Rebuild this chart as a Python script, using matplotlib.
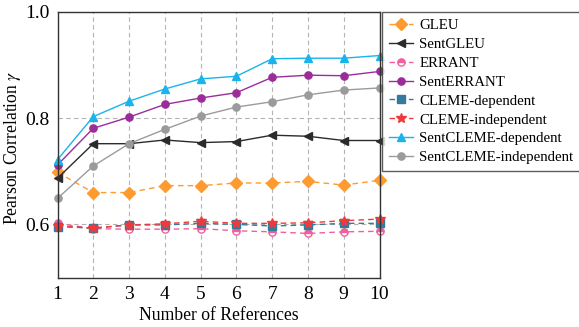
import matplotlib
matplotlib.use('Agg')
import matplotlib.pyplot as plt

plt.rcParams['font.family'] = ['Liberation Serif', 'DejaVu Serif']
plt.rcParams['mathtext.fontset'] = 'stix'

refs = [1, 2, 3, 4, 5, 6, 7, 8, 9, 10]

gleu = [0.698, 0.660, 0.660, 0.673, 0.673, 0.678, 0.678, 0.681, 0.674, 0.683]
sent_gleu = [0.687, 0.752, 0.752, 0.759, 0.754, 0.756, 0.768, 0.766, 0.758, 0.758]
errant = [0.602, 0.592, 0.591, 0.591, 0.592, 0.588, 0.586, 0.583, 0.586, 0.587]
sent_errant = [0.712, 0.781, 0.802, 0.826, 0.838, 0.848, 0.877, 0.881, 0.880, 0.888]
cleme_dep = [0.596, 0.593, 0.599, 0.599, 0.602, 0.600, 0.597, 0.599, 0.602, 0.602]
cleme_ind = [0.597, 0.593, 0.599, 0.601, 0.606, 0.602, 0.602, 0.603, 0.607, 0.610]
sent_cleme_dep = [0.722, 0.803, 0.832, 0.855, 0.874, 0.879, 0.912, 0.913, 0.913, 0.918]
sent_cleme_ind = [0.649, 0.710, 0.752, 0.779, 0.804, 0.821, 0.831, 0.844, 0.853, 0.857]

# name, values, colour, marker, marker size, line style
series = [
  ('GLEU', gleu, '#ff9a2e', 'D', 6.0, '--'),
  ('SentGLEU', sent_gleu, '#2b2b2b', '<', 5.5, '-'),
  ('ERRANT', errant, '#f0609e', 'o', 5.2, '--'),
  ('SentERRANT', sent_errant, '#9b2d9b', 'o', 5.2, '-'),
  ('CLEME-dependent', cleme_dep, '#357a9c', 's', 5.5, '--'),
  ('CLEME-independent', cleme_ind, '#f03a3a', '*', 7.5, '--'),
  ('SentCLEME-dependent', sent_cleme_dep, '#1ab4ec', '^', 5.5, '-'),
  ('SentCLEME-independent', sent_cleme_ind, '#9b9b9b', 'o', 5.2, '-'),
]

fig = plt.figure(figsize=(5.79, 3.27), dpi=100)
ax = fig.add_axes([57.5/579, 1 - 277.5/327, (379.5-57.5)/579, (277.5-12)/327])

for name, vals, col, mk, ms, ls in series:
  kw = {}
  if name == 'ERRANT':
    # half circle: top filled, bottom open
    kw = dict(fillstyle='top', markerfacecoloralt='white')
  ax.plot(refs, vals, color=col, marker=mk, linestyle=ls, linewidth=1.0,
          markersize=ms, markerfacecolor=col, markeredgecolor=col,
          markeredgewidth=1.0, label=name,
          dashes=(4, 3) if ls == '--' else (None, None), clip_on=False, **kw)

ax.set_xlim(1, 10)
ax.set_ylim(0.5, 1.0)
ax.set_xticks(refs)
ax.set_yticks([0.6, 0.8, 1.0])
ax.set_yticklabels(['0.6', '0.8', '1.0'])
ax.tick_params(length=0, labelsize=14, pad=6)
ax.grid(True, color='#b3b3b3', linestyle=(0, (4, 3)), linewidth=0.8)
ax.set_axisbelow(True)
for sp in ax.spines.values():
  sp.set_color('#333333')
  sp.set_linewidth(1.0)

ax.set_xlabel('Number of References', fontsize=12.7, labelpad=3)
ax.set_ylabel(r'Pearson Correlation $\gamma$', fontsize=12.7)
ax.yaxis.set_label_coords(-0.107, 0.49)

leg = ax.legend(loc='upper left', bbox_to_anchor=(1.008, 1.0), fontsize=10.7,
                frameon=True, fancybox=False, edgecolor='#333333',
                handlelength=1.6, handletextpad=0.45, labelspacing=0.37,
                borderpad=0.45, borderaxespad=0.0)
leg.get_frame().set_linewidth(1.0)

fig.savefig('out.png', dpi=100)
